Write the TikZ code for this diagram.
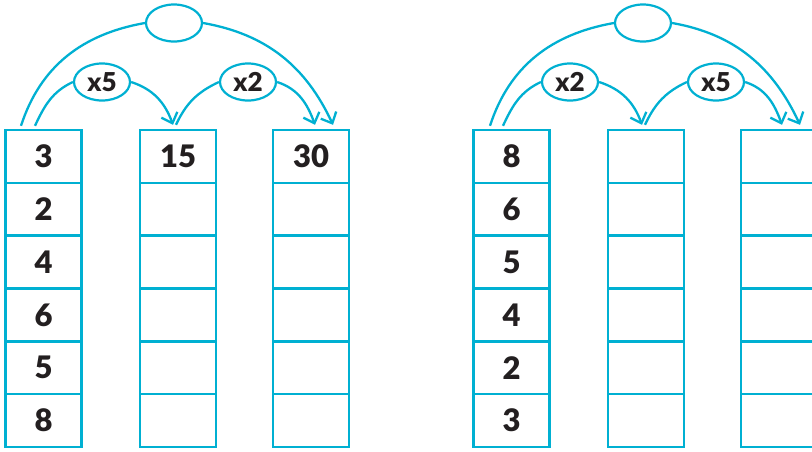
\documentclass[tikz,border=0pt]{standalone}
\usepackage{fontspec}
\setmainfont{Lato}[BoldFont={Lato Black}]
\usetikzlibrary{arrows.meta,shapes.geometric}
\definecolor{gridcyan}{RGB}{0,176,210}
\definecolor{digitgray}{RGB}{35,31,32}

\tikzset{
  cell/.style={draw=gridcyan,line width=2.6pt,minimum width=76pt,minimum height=52.8pt,
    inner sep=0pt,text=digitgray,font=\fontsize{31}{31}\selectfont\bfseries},
  ring/.style={draw=gridcyan,line width=2.2pt,ellipse,minimum width=56pt,minimum height=37pt,
    inner sep=0pt,text=digitgray,font=\fontsize{26}{26}\selectfont\bfseries},
  hop/.style={gridcyan,line width=2.3pt,-{Straight Barb[length=9pt,width=17pt]}},
  hopstart/.style={gridcyan,line width=2.3pt}
}

\begin{document}
\begin{tikzpicture}[x=1pt,y=-1pt]
\useasboundingbox (0,0) rectangle (812,451);
% left chart
\begin{scope}
\foreach \a/\b/\c [count=\r] in {3/15/30,2/{}/{},4/{}/{},6/{}/{},5/{}/{},8/{}/{}}{
  \node[cell] (La\r) at (43.5,{156.5+52.8*(\r-1)}) {\a};
  \node[cell] (Lb\r) at (178,{156.5+52.8*(\r-1)}) {\b};
  \node[cell] (Lc\r) at (311,{156.5+52.8*(\r-1)}) {\c};
}
\node[ring] (Lbig) at (174,23) {};
\node[ring] (Lone) at (102,82) {x5};
\node[ring] (Ltwo) at (248,82) {x2};
\draw[hopstart] ([xshift=-22.5pt,yshift=3pt]La1.north) to[out=72,in=190] (Lbig.west);
\draw[hop] (Lbig.east) to[out=-10,in=115] ([xshift=22pt,yshift=4pt]Lc1.north);
\draw[hopstart] ([xshift=-8.5pt,yshift=3pt]La1.north) to[out=65,in=205] (Lone.west);
\draw[hop] (Lone.east) to[out=-18,in=110] ([xshift=-5pt,yshift=4pt]Lb1.north);
\draw[hopstart] ([xshift=-2pt,yshift=4pt]Lb1.north) to[out=65,in=205] (Ltwo.west);
\draw[hop] (Ltwo.east) to[out=-18,in=110] ([xshift=4pt,yshift=4pt]Lc1.north);
\end{scope}
% right chart
\begin{scope}[xshift=468pt]
\foreach \a [count=\r] in {8,6,5,4,2,3}{
  \node[cell] (Ra\r) at (43.5,{156.5+52.8*(\r-1)}) {\a};
  \node[cell] (Rb\r) at (178,{156.5+52.8*(\r-1)}) {};
  \node[cell] (Rc\r) at (311,{156.5+52.8*(\r-1)}) {};
}
\node[ring] (Rbig) at (175,23) {};
\node[ring] (Rone) at (102,82) {x2};
\node[ring] (Rtwo) at (248,82) {x5};
\draw[hopstart] ([xshift=-21.5pt,yshift=3pt]Ra1.north) to[out=72,in=190] (Rbig.west);
\draw[hop] (Rbig.east) to[out=-10,in=115] ([xshift=21pt,yshift=4pt]Rc1.north);
\draw[hopstart] ([xshift=-8.5pt,yshift=3pt]Ra1.north) to[out=65,in=205] (Rone.west);
\draw[hop] (Rone.east) to[out=-18,in=110] ([xshift=-4pt,yshift=4pt]Rb1.north);
\draw[hopstart] ([xshift=-1pt,yshift=4pt]Rb1.north) to[out=65,in=205] (Rtwo.west);
\draw[hop] (Rtwo.east) to[out=-18,in=110] ([xshift=3pt,yshift=4pt]Rc1.north);
\end{scope}
\end{tikzpicture}
\end{document}
